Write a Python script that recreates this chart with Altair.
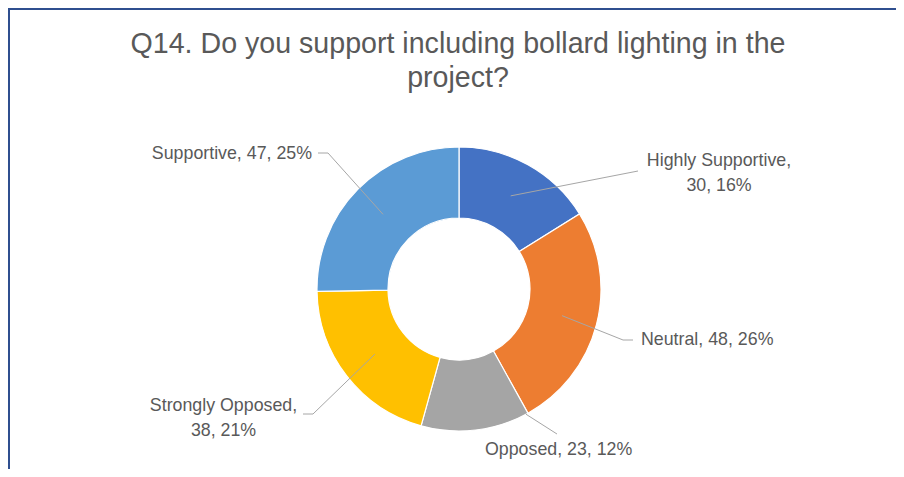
import altair as alt
import pandas as pd

# ---- data ----
categories = ["Highly Supportive", "Neutral", "Opposed", "Strongly Opposed", "Supportive"]
counts = [30, 48, 23, 38, 47]
percents = [16, 26, 12, 21, 25]
colors = ["#4472C4", "#ED7D31", "#A5A5A5", "#FFC000", "#5B9BD5"]
title_lines = ["Q14. Do you support including bollard lighting in the", "project?"]

# ---- layout (label callouts, chart-space pixels; y = first line centre) ----
label_x = [711, 633, 477, 215.5, 304]
label_y = [152.5, 332, 442, 398, 146]
label_align = ["center", "left", "left", "center", "right"]
label_wrap = [True, False, False, True, False]
elbow_x = [630, 615, 549, 305, 320]
elbow_y = [163, 332, 426, 406, 145]
end_x = [630, 625, 549, 295, 310]
anchor_frac = [0.5, 0.5, 0.02, 0.5, 0.5]
anchor_rad = [0.75, 0.75, 1.0, 0.75, 0.75]

W, H = 888, 461
CX, CY = 451, 281
R_OUT, R_IN = 142, 71
FONT = "Liberation Sans"
TXT = "#595959"

df = pd.DataFrame({
    "idx": list(range(len(categories))),
    "category": categories,
    "count": counts,
    "pct": percents,
    "lx": label_x,
    "ly": label_y,
    "align": label_align,
    "wrap": label_wrap,
    "ex": elbow_x,
    "ey": elbow_y,
    "endx": end_x,
    "frac": anchor_frac,
    "rad": anchor_rad,
})

base = alt.Chart(df)

donut = base.mark_arc(
    innerRadius=R_IN, outerRadius=R_OUT, stroke="white", strokeWidth=1.2
).encode(
    theta=alt.Theta("count:Q", stack=True),
    order=alt.Order("idx:Q"),
    color=alt.Color("category:N", scale=alt.Scale(domain=categories, range=colors), legend=None),
    x=alt.value(CX),
    y=alt.value(CY),
)

geo = base.transform_joinaggregate(
    total="sum(count)"
).transform_window(
    cum="sum(count)", sort=[alt.SortField("idx")], frame=[None, 0]
).transform_calculate(
    start="datum.cum - datum.count",
).transform_calculate(
    ang="(datum.start + datum.frac * datum.count) / datum.total * 2 * PI",
).transform_calculate(
    ax=f"{CX} + datum.rad * {R_OUT} * sin(datum.ang)",
    ay=f"{CY} - datum.rad * {R_OUT} * cos(datum.ang)",
)

leader1 = geo.mark_rule(color="#A6A6A6", strokeWidth=1).encode(
    x=alt.X("ax:Q", scale=None),
    y=alt.Y("ay:Q", scale=None),
    x2="ex:Q",
    y2="ey:Q",
)
leader2 = base.mark_rule(color="#A6A6A6", strokeWidth=1).encode(
    x=alt.X("ex:Q", scale=None),
    x2="endx:Q",
    y=alt.Y("ey:Q", scale=None),
)

lab = base.transform_calculate(
    lbl="datum.wrap ? [datum.category + ',', datum.count + ', ' + datum.pct + '%'] : "
        "datum.category + ', ' + datum.count + ', ' + datum.pct + '%'"
)

def label_layer(al):
    return lab.transform_filter(alt.datum.align == al).mark_text(
        align=al, baseline="middle", font=FONT, fontSize=17.8, color=TXT, lineHeight=25
    ).encode(
        x=alt.X("lx:Q", scale=None),
        y=alt.Y("ly:Q", scale=None),
        text="lbl:N",
    )

title = alt.Chart(pd.DataFrame({"t": [title_lines]})).mark_text(
    align="center", baseline="middle", font=FONT, fontSize=28.6, color=TXT, lineHeight=34
).encode(
    x=alt.value(CX - 1),
    y=alt.value(36),
    text="t:N",
)

border = alt.Chart(pd.DataFrame({"a": [0]})).mark_rule(color="#2F4F8F", strokeWidth=2).encode(
    x=alt.value(1), x2=alt.value(1), y=alt.value(0), y2=alt.value(H)
)
border2 = alt.Chart(pd.DataFrame({"a": [0]})).mark_rule(color="#2F4F8F", strokeWidth=2).encode(
    x=alt.value(0), x2=alt.value(W), y=alt.value(1), y2=alt.value(1)
)

chart = alt.layer(
    donut, leader1, leader2,
    label_layer("left"), label_layer("right"), label_layer("center"),
    title, border, border2,
).properties(
    width=W, height=H, autosize=alt.AutoSizeParams(type="none"), padding=0,
).configure_view(stroke=None)

chart.save("out.html", embed_options={"renderer": "svg", "actions": False})
